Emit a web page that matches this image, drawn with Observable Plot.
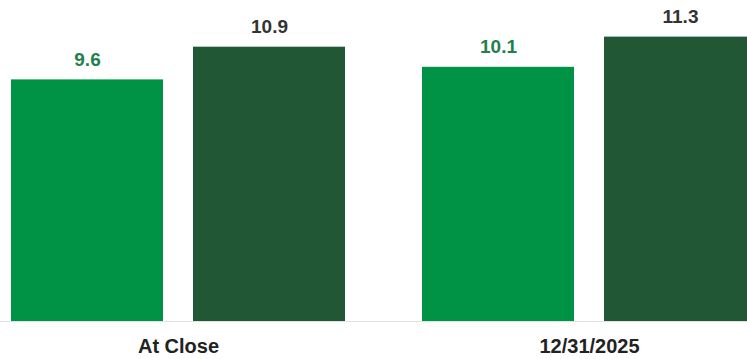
<!DOCTYPE html>
<html>
<head>
<meta charset="utf-8">
<script src="https://cdn.jsdelivr.net/npm/d3@7"></script>
<script src="https://cdn.jsdelivr.net/npm/@observablehq/plot@0.6"></script>
<style>
  html, body { margin: 0; padding: 0; background: #fff; overflow: hidden; }
  #chart svg { overflow: hidden; }
</style>
</head>
<body>
<div id="chart"></div>
<script>
const groups = ["At Close", "12/31/2025"];
const series = ["A", "B"];
const valuesA = [9.6, 10.1];
const valuesB = [10.9, 11.3];
const barColors = ["#009245", "#215734"];
const labelColors = ["#22804f", "#333333"];

const data = [];
groups.forEach((g, i) => {
  data.push({group: g, series: series[0], value: valuesA[i]});
  data.push({group: g, series: series[1], value: valuesB[i]});
});

const chart = Plot.plot({
  width: 747,
  height: 359,
  marginTop: 19,
  marginBottom: 38,
  marginLeft: 0,
  marginRight: 0,
  style: {fontFamily: "'Liberation Sans', Arial, sans-serif", background: "#fff"},
  fx: {domain: groups, range: [11, 756], paddingInner: 0.1883, paddingOuter: 0, label: null, axis: null},
  x: {domain: series, paddingInner: 0.165, paddingOuter: 0, axis: null},
  y: {domain: [0, 12], axis: null},
  color: {domain: series, range: barColors},
  marks: [
    Plot.barY(data, {fx: "group", x: "series", y: "value", fill: "series"}),
    Plot.text(data, {
      fx: "group", x: "series", y: "value",
      text: d => d.value.toFixed(1),
      lineAnchor: "bottom", dy: -14,
      fontSize: 19, fontWeight: "bold",
      fill: d => labelColors[series.indexOf(d.series)]
    }),
    Plot.axisFx({
      domain: groups, anchor: "bottom", tickSize: 0, tickPadding: 17,
      fontSize: 20, fontWeight: "bold", fill: "#222", label: null
    })
  ]
});

// full-width baseline drawn via the y scale
const svg = d3.select(chart);
const y0 = chart.scale("y").apply(0);
svg.append("line")
  .attr("x1", 0).attr("x2", 747)
  .attr("y1", y0 + 0.5).attr("y2", y0 + 0.5)
  .attr("stroke", "#e2e2e2").attr("stroke-width", 1);

document.getElementById("chart").append(chart);
</script>
</body>
</html>
